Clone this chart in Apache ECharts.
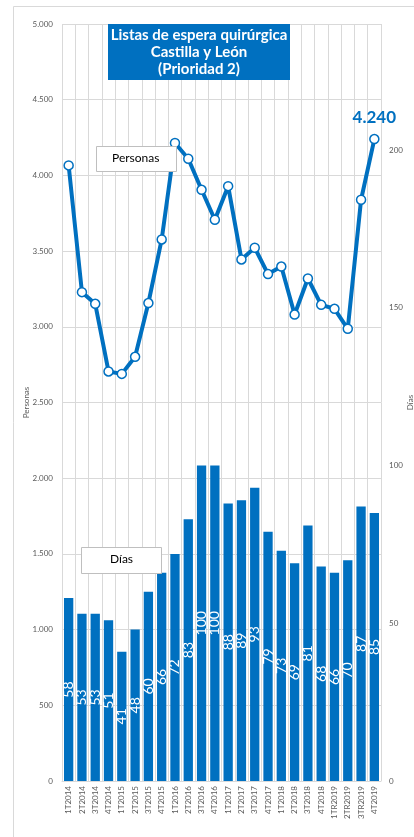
<!DOCTYPE html>
<html>
<head>
<meta charset="utf-8">
<script src="https://cdn.jsdelivr.net/npm/echarts@6/dist/echarts.min.js"></script>
<style>
html,body{margin:0;padding:0;background:#fff;}
#c{width:414px;height:837px;}
</style>
</head>
<body>
<div id="c"></div>
<script>
const categories = ['1T2014','2T2014','3T2014','4T2014','1T2015','2T2015','3T2015','4T2015','1T2016','2T2016','3T2016','4T2016','1T2017','2T2017','3T2017','4T2017','1T2018','2T2018','3T2018','4T2018','1TR2019','2TR2019','3TR2019','4T2019'];
const personas = [4066,3229,3152,2705,2689,2802,3157,3577,4214,4110,3905,3707,3929,3445,3522,3348,3398,3081,3319,3145,3119,2987,3839,4240];
const dias = [58,53,53,51,41,48,60,66,72,83,100,100,88,89,93,79,73,69,81,68,66,70,87,85];
const leftTicks = {min:0, max:5000, interval:500};
const rightTicks = {min:0, max:240, interval:50};

const FONT = 'Lato, "Open Sans", sans-serif';
const BLUE = '#0070C0';
const fmt = v => String(v).replace(/\B(?=(\d{3})+(?!\d))/g, '.');

const chart = echarts.init(document.getElementById('c'));
const lastIdx = personas.length - 1;
chart.setOption({
  animation: false,
  textStyle: {fontFamily: FONT},
  grid: {left: 62, right: 33, top: 24, bottom: 56, containLabel: false, outerBoundsMode: 'none'},
  xAxis: {
    type: 'category',
    data: categories,
    boundaryGap: true,
    axisLine: {show: true, lineStyle: {color: '#d9d9d9'}},
    axisTick: {show: false},
    splitLine: {show: true, lineStyle: {color: '#d9d9d9', width: 1}},
    axisLabel: {rotate: 90, interval: 0, fontSize: 8, color: '#595959', margin: 5, fontFamily: FONT}
  },
  yAxis: [
    {
      type: 'value', min: leftTicks.min, max: leftTicks.max, interval: leftTicks.interval,
      name: 'Personas', nameLocation: 'middle', nameGap: 32, nameRotate: 90, nameMoveOverlap: false,
      nameTextStyle: {color: '#595959', fontSize: 8, fontFamily: FONT},
      axisLine: {show: false}, axisTick: {show: false},
      splitLine: {show: true, lineStyle: {color: '#d9d9d9', width: 1}},
      axisLabel: {fontSize: 8, color: '#595959', formatter: v => fmt(v), margin: 9, fontFamily: FONT}
    },
    {
      type: 'value', min: rightTicks.min, max: rightTicks.max, interval: rightTicks.interval,
      name: 'Días', nameLocation: 'middle', nameGap: 25, nameRotate: 90, nameMoveOverlap: false,
      nameTextStyle: {color: '#595959', fontSize: 8, fontFamily: FONT},
      axisLine: {show: false}, axisTick: {show: false},
      splitLine: {show: false},
      axisLabel: {fontSize: 8, color: '#595959', showMaxLabel: false, margin: 8, fontFamily: FONT}
    }
  ],
  series: [
    {
      type: 'bar', name: 'Días', yAxisIndex: 1, data: dias,
      barCategoryGap: '30%',
      itemStyle: {color: BLUE},
      label: {show: true, position: 'inside', rotate: 90, color: '#fff', fontSize: 14, fontFamily: FONT}
    },
    {
      type: 'line', name: 'Personas', yAxisIndex: 0,
      data: personas.map((v, i) => i === lastIdx ? {value: v, label: {show: true}} : v),
      symbol: 'circle', symbolSize: 9,
      lineStyle: {color: BLUE, width: 4},
      itemStyle: {color: '#fff', borderColor: BLUE, borderWidth: 1.5},
      label: {show: false, position: 'top', distance: 8, color: BLUE, fontSize: 17, fontWeight: 'bold', formatter: p => fmt(p.value), fontFamily: FONT},
      z: 5
    }
  ],
  graphic: [
    {type: 'rect', left: 11, top: 4, shape: {width: 410, height: 840}, style: {fill: 'none', stroke: '#d9d9d9', lineWidth: 1}, silent: true},
    {type: 'rect', left: 108, top: 24, shape: {width: 182, height: 56}, style: {fill: BLUE}, z: 10},
    {type: 'text', x: 199, y: 27, z: 11,
      style: {text: 'Listas de espera quirúrgica\nCastilla y León\n(Prioridad 2)', fill: '#fff', font: 'bold 15px ' + FONT, textAlign: 'center', lineHeight: 17}},
    {type: 'rect', left: 96, top: 146, shape: {width: 80, height: 25}, style: {fill: '#fff', stroke: '#bfbfbf', lineWidth: 1}, z: 10},
    {type: 'text', left: 112, top: 152, z: 11, style: {text: 'Personas', fill: '#000', font: '12px ' + FONT}},
    {type: 'rect', left: 81, top: 547, shape: {width: 80, height: 26}, style: {fill: '#fff', stroke: '#bfbfbf', lineWidth: 1}, z: 10},
    {type: 'text', left: 110, top: 553, z: 11, style: {text: 'Días', fill: '#000', font: '12px ' + FONT}}
  ]
});
</script>
</body>
</html>
